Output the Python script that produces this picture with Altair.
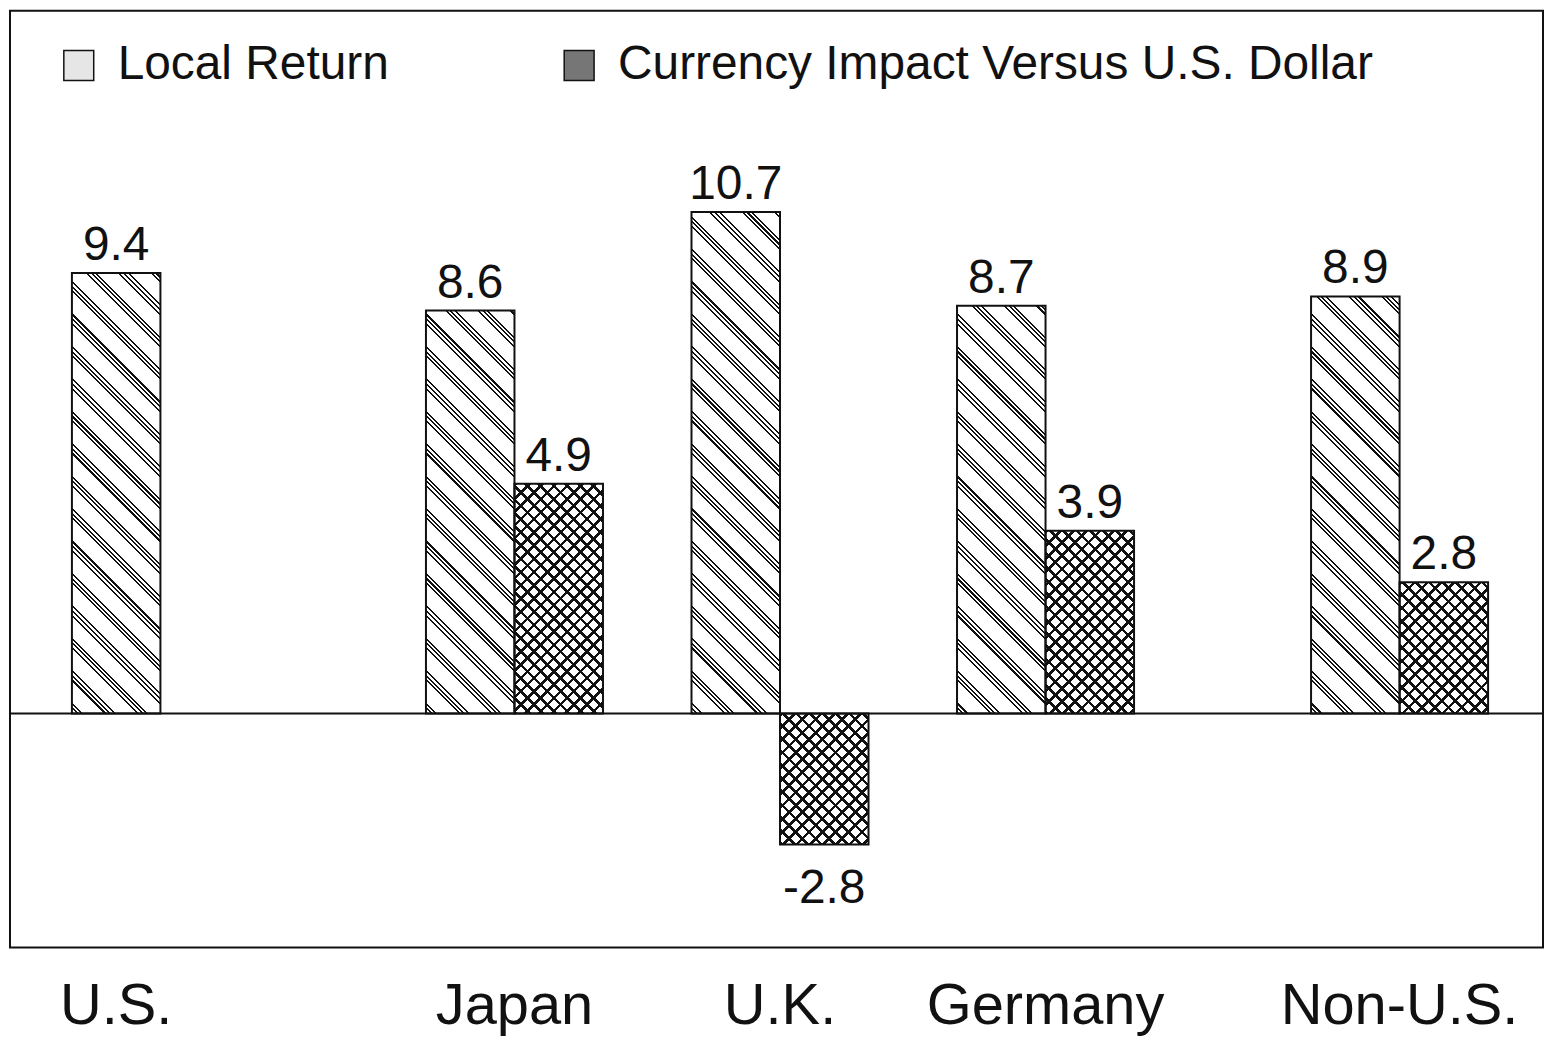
import math
import altair as alt
import pandas as pd

# ---------------- data ----------------
categories = ["U.S.", "Japan", "U.K.", "Germany", "Non-U.S."]
local_return = [9.4, 8.6, 10.7, 8.7, 8.9]
currency_impact = [None, 4.9, -2.8, 3.9, 2.8]
series_names = ["Local Return", "Currency Impact Versus U.S. Dollar"]

rows = []
for c, lv, cv in zip(categories, local_return, currency_impact):
    rows.append({"category": c, "series": series_names[0], "slot": c + "|Local",
                 "value": lv, "label": f"{lv:.1f}"})
    if cv is not None:
        rows.append({"category": c, "series": series_names[1], "slot": c + "|Currency",
                     "value": cv, "label": f"{cv:.1f}"})
df = pd.DataFrame(rows)

# ---------------- layout / style ----------------
FONT = "Liberation Sans"
INK = "#111111"
W, H = 1538, 940
Y_MIN, Y_MAX = -5, 15
PAD_OUTER = 0.66
gaps_after = {"U.S.": 2, "Japan": 1, "U.K.": 1, "Germany": 2}
slot_domain = []
for c in categories:
    slot_domain += [c + "|Local", c + "|Currency"]
    for g in range(gaps_after.get(c, 0)):
        slot_domain.append(f"gap {c} {g}")

step = W / (len(slot_domain) + 2 * PAD_OUTER)
px_per_unit = H / (Y_MAX - Y_MIN)


def hatch(w, h, direction, period, lines, bg):
    """Linear gradient with hard stops that looks like 45-degree hatching."""
    r = h / w
    d = (1 + r) / (1 + r * r)
    if direction == "back":      # "\" lines
        x1, y1, x2, y2 = 0, 1, d, 1 - r * d
    else:                        # "/" lines
        x1, y1, x2, y2 = 0, 0, d, r * d
    L = (w + h) / math.sqrt(2)
    stops = [{"offset": 0, "color": bg}]
    n = int(L // period) + 2
    for k in range(-1, n):
        for a, b in lines:
            s = (k * period + a) / L
            e = (k * period + b) / L
            if e <= 0 or s >= 1:
                continue
            s = round(max(s, 0.0), 5)
            e = round(min(e, 1.0), 5)
            stops += [{"offset": s, "color": bg}, {"offset": s, "color": INK},
                      {"offset": e, "color": INK}, {"offset": e, "color": bg}]
    stops.append({"offset": 1, "color": bg})
    return {"gradient": "linear", "x1": x1, "y1": y1, "x2": round(x2, 6),
            "y2": round(y2, 6), "stops": stops}


LOCAL_LINES = [(0, 1.5), (3.3, 4.8), (6.6, 8.1)]
CROSS_LINES = [(0, 2.6)]

x_enc = alt.X(
    "slot:N",
    scale=alt.Scale(domain=slot_domain, paddingInner=0, paddingOuter=PAD_OUTER, align=0.53),
    axis=alt.Axis(
        title=None, domain=False, ticks=False, grid=False,
        labelExpr="indexof(datum.value, '|Local') > 0 ? split(datum.value, '|')[0] : ''",
        labelAlign="center",
        labelOffset={"condition": {"test": "datum.value === 'U.S.|Local'", "value": 0},
                     "value": round(step / 2, 1)},
        labelFont=FONT, labelFontSize=58, labelColor=INK, labelPadding=30,
        labelAngle=0, labelLimit=1000,
    ),
)
y_enc = alt.Y("value:Q", scale=alt.Scale(domain=[Y_MIN, Y_MAX], nice=False, zero=False),
              axis=None)

base = alt.Chart(df)

legend_bars = base.mark_bar().encode(
    x=x_enc, y=y_enc,
    fill=alt.Fill(
        "series:N",
        scale=alt.Scale(domain=series_names, range=["#e6e6e6", "#767676"]),
        legend=alt.Legend(
            orient="none", legendX=45, legendY=31, direction="horizontal", title=None,
            labelFont=FONT, labelFontSize=48, labelColor=INK, labelLimit=1000,
            symbolType="square", symbolSize=900, symbolStrokeColor=INK,
            symbolStrokeWidth=1.5, symbolOpacity=1, labelOffset=15,
            columnPadding=166, padding=0,
        ),
    ),
)

layers = [legend_bars]
for rec in rows:
    h = abs(rec["value"]) * px_per_unit
    sel = base.transform_filter(alt.FieldEqualPredicate(field="slot", equal=rec["slot"]))
    if rec["series"] == series_names[0]:
        g = hatch(step, h, "back", 23.0, LOCAL_LINES, "#ffffff")
        layers.append(sel.mark_bar(fill=g).encode(x=x_enc, y=y_enc))
    else:
        g1 = hatch(step, h, "back", 9.4, CROSS_LINES, "#ffffff")
        g2 = hatch(step, h, "fwd", 9.4, CROSS_LINES, "rgba(255,255,255,0)")
        layers.append(sel.mark_bar(fill=g1).encode(x=x_enc, y=y_enc))
        layers.append(sel.mark_bar(fill=g2).encode(x=x_enc, y=y_enc))

outline = base.mark_bar(fillOpacity=0, stroke=INK, strokeWidth=2).encode(x=x_enc, y=y_enc)

zero = alt.Chart(pd.DataFrame({"z": [0]})).mark_rule(color=INK, strokeWidth=2).encode(
    y=alt.Y("z:Q", scale=alt.Scale(domain=[Y_MIN, Y_MAX], nice=False, zero=False), axis=None)
)

pos_text = base.transform_filter("datum.value >= 0").mark_text(
    baseline="alphabetic", dy=-13, font=FONT, fontSize=48, color=INK
).encode(x=x_enc, y=y_enc, text="label:N")

neg_text = base.transform_filter("datum.value < 0").mark_text(
    baseline="alphabetic", dy=59, font=FONT, fontSize=48, color=INK
).encode(x=x_enc, y=y_enc, text="label:N")

chart = alt.layer(*layers, outline, zero, pos_text, neg_text).properties(
    width=W, height=H,
    autosize=alt.AutoSizeParams(type="none"),
    padding={"left": 2, "top": 1, "right": 2, "bottom": 90},
    background="white",
).configure_view(stroke=INK, strokeWidth=2)

chart.save("out.html", embed_options={"renderer": "svg", "actions": False})
